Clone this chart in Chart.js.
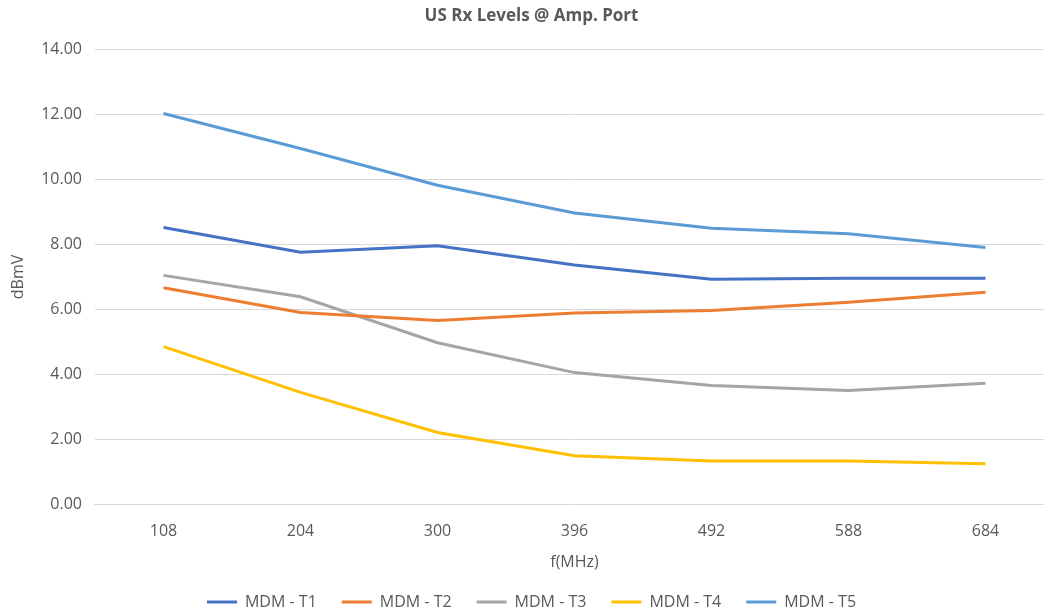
<!DOCTYPE html>
<html>
<head>
<meta charset="utf-8">
<script src="https://cdn.jsdelivr.net/npm/chart.js@4.4.1/dist/chart.umd.min.js"></script>
<style>
  html, body { margin: 0; padding: 0; background: #ffffff; overflow: hidden; }
  #wrap { width: 1060px; height: 616px; }
</style>
</head>
<body>
<div id="wrap"><canvas id="rx-chart" width="1060" height="616"></canvas></div>
<script>
// US Rx levels at the amp port
const frequencies = ['108', '204', '300', '396', '492', '588', '684'];
const seriesNames = ['MDM - T1', 'MDM - T2', 'MDM - T3', 'MDM - T4', 'MDM - T5'];
const t1Levels = [8.52, 7.76, 7.96, 7.37, 6.93, 6.96, 6.96];
const t2Levels = [6.67, 5.91, 5.66, 5.89, 5.97, 6.22, 6.53];
const t3Levels = [7.05, 6.39, 4.98, 4.06, 3.66, 3.51, 3.73];
const t4Levels = [4.86, 3.45, 2.22, 1.50, 1.34, 1.34, 1.26];
const t5Levels = [12.03, 10.95, 9.82, 8.97, 8.50, 8.33, 7.91];
const yTicks = [0, 2, 4, 6, 8, 10, 12, 14];

const seriesColors = ['#4472C4', '#ED7D31', '#A5A5A5', '#FFC000', '#5B9BD5'];
const seriesValues = [t1Levels, t2Levels, t3Levels, t4Levels, t5Levels];

const textColor = '#595959';
const fontFamily = '"Open Sans", "Liberation Sans", sans-serif';

const ctx = document.getElementById('rx-chart').getContext('2d');
new Chart(ctx, {
    type: 'line',
    data: {
        labels: frequencies,
        datasets: seriesNames.map((name, i) => ({
            label: name,
            data: seriesValues[i],
            borderColor: seriesColors[i],
            backgroundColor: seriesColors[i],
            borderWidth: 3,
            pointRadius: 0,
            pointHoverRadius: 0,
            tension: 0,
            fill: false
        }))
    },
    options: {
        responsive: false,
        animation: false,
        layout: { padding: { left: 9, right: 6, top: 4, bottom: -4 } },
        scales: {
            x: {
                offset: true,
                grid: { display: false, drawTicks: false },
                border: { color: '#D9D9D9', width: 1 },
                ticks: { color: textColor, font: { family: fontFamily, size: 16 }, padding: 17 },
                title: {
                    display: true,
                    text: 'f(MHz)',
                    color: textColor,
                    font: { family: fontFamily, size: 16 },
                    padding: { top: -5, bottom: -3 }
                }
            },
            y: {
                min: 0,
                max: 14,
                afterBuildTicks: (axis) => {
                    axis.ticks = yTicks.map(v => ({ value: v }));
                },
                grid: { color: '#D9D9D9', lineWidth: 1, drawTicks: false },
                border: { display: false },
                ticks: {
                    color: textColor,
                    font: { family: fontFamily, size: 16 },
                    padding: 13,
                    callback: (value) => Number(value).toFixed(2)
                },
                title: {
                    display: true,
                    text: 'dBmV',
                    color: textColor,
                    font: { family: fontFamily, size: 16 },
                    padding: { top: 0, bottom: 0 }
                }
            }
        },
        plugins: {
            title: {
                display: true,
                text: 'US Rx Levels @ Amp. Port',
                color: textColor,
                font: { family: fontFamily, size: 17, weight: 'bold' },
                padding: { top: 2, bottom: 23 }
            },
            legend: {
                position: 'bottom',
                labels: {
                    color: textColor,
                    font: { family: fontFamily, size: 16 },
                    usePointStyle: true,
                    pointStyle: 'line',
                    pointStyleWidth: 30,
                    boxHeight: 3,
                    padding: 25
                }
            },
            tooltip: { enabled: false }
        }
    }
});
</script>
</body>
</html>
